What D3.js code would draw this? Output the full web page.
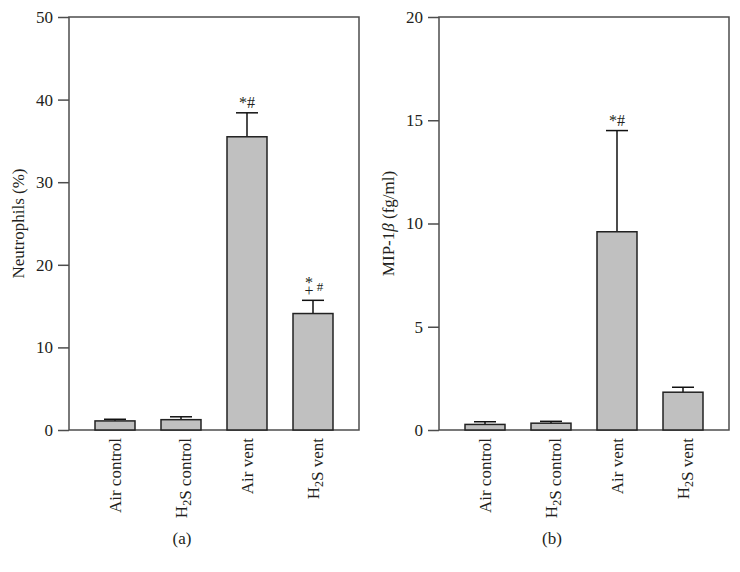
<!DOCTYPE html>
<html>
<head>
<meta charset="utf-8">
<script src="https://cdn.jsdelivr.net/npm/d3@7"></script>
<style>
  body { margin: 0; background: #fff; }
  svg text { font-family: "Liberation Serif", "DejaVu Serif", serif; fill: #231f20; }
</style>
</head>
<body>
<div id="chart"></div>
<script>
// Data
const categories = ["Air control", "H2S control", "Air vent", "H2S vent"];
const neutrophilMean = [1.1, 1.25, 35.5, 14.1];
const neutrophilErr = [0.2, 0.35, 2.9, 1.6];
const neutrophilTicks = [0, 10, 20, 30, 40, 50];
const neutrophilMarks = ["", "", "*#", "*+#"];
const mipMean = [0.27, 0.33, 9.6, 1.83];
const mipErr = [0.13, 0.09, 4.9, 0.24];
const mipTicks = [0, 5, 10, 15, 20];
const mipMarks = ["", "", "*#", ""];

const width = 740, height = 572;
const fontSize = "17px";
const svg = d3.select("#chart").append("svg")
    .attr("width", width)
    .attr("height", height);

// write "H2S" with a subscript 2
function labelWithSub(sel, txt) {
    const parts = txt.split(/(2)/);
    parts.forEach(p => {
        if (p === "2") {
            sel.append("tspan").attr("dy", 4).style("font-size", "12px").text("2");
            sel.append("tspan").attr("dy", -4).text("");
        } else if (p) {
            sel.append("tspan").text(p);
        }
    });
}

function drawPanel(means, errs, ticks, marks, yLabel, panelTag, left) {
    const top = 17, bottom = 430, right = left + 290;

    const x = d3.scaleBand()
        .domain(categories)
        .range([left, right])
        .padding(0.394);

    const y = d3.scaleLinear()
        .domain([0, ticks[ticks.length - 1]])
        .range([bottom, top]);

    const g = svg.append("g");

    // frame
    g.append("rect")
        .attr("x", left)
        .attr("y", top)
        .attr("width", right - left)
        .attr("height", bottom - top)
        .attr("fill", "none")
        .attr("stroke", "#4d4d4d")
        .attr("stroke-width", 1.5);

    // y axis
    const axis = g.append("g")
        .attr("transform", `translate(${left},0)`)
        .call(d3.axisLeft(y).tickValues(ticks).tickSize(11).tickPadding(5));
    axis.select(".domain").remove();
    axis.selectAll(".tick line").attr("stroke", "#4d4d4d").attr("stroke-width", 1.5);
    axis.selectAll(".tick text")
        .style("font-size", fontSize)
        .style("font-family", "'Liberation Serif', serif")
        .attr("fill", "#231f20");

    // error bars
    categories.forEach((c, i) => {
        const cx = x(c) + x.bandwidth() / 2;
        g.append("line")
            .attr("x1", cx).attr("x2", cx)
            .attr("y1", y(means[i])).attr("y2", y(means[i] + errs[i]))
            .attr("stroke", "#111").attr("stroke-width", 1.5);
        g.append("line")
            .attr("x1", cx - 11).attr("x2", cx + 11)
            .attr("y1", y(means[i] + errs[i])).attr("y2", y(means[i] + errs[i]))
            .attr("stroke", "#111").attr("stroke-width", 1.5);
    });

    // bars
    g.selectAll("rect.bar")
        .data(means)
        .join("rect")
        .attr("class", "bar")
        .attr("x", (d, i) => x(categories[i]))
        .attr("y", d => y(d))
        .attr("width", x.bandwidth())
        .attr("height", d => y(0) - y(d))
        .attr("fill", "#c0c0c0")
        .attr("stroke", "#222")
        .attr("stroke-width", 1.5);

    // significance marks
    marks.forEach((m, i) => {
        if (!m) return;
        const cx = x(categories[i]) + x.bandwidth() / 2;
        const ty = y(means[i] + errs[i]);
        if (m === "*#") {
            g.append("text")
                .attr("x", cx).attr("y", ty - 5)
                .attr("text-anchor", "middle")
                .style("font-size", "16px")
                .text("*#");
        } else {
            // stacked * over +, with # to the right
            const t = g.append("text")
                .attr("x", cx - 4).attr("y", ty - 12)
                .attr("text-anchor", "middle")
                .style("font-size", "16px");
            t.append("tspan").text("*");
            t.append("tspan").attr("x", cx - 4).attr("dy", 8).text("+");
            t.append("tspan").attr("x", cx + 7).attr("dy", -5)
                .style("font-size", "13px").text("#");
        }
    });

    // category labels
    categories.forEach(c => {
        const cx = x(c) + x.bandwidth() / 2 + 6;
        const t = g.append("text")
            .attr("transform", `translate(${cx},${bottom + 8}) rotate(-90)`)
            .attr("text-anchor", "end")
            .style("font-size", fontSize);
        labelWithSub(t, c);
    });

    // y label
    const yl = g.append("text")
        .attr("transform", `translate(${left - 45},${(top + bottom) / 2}) rotate(-90)`)
        .attr("text-anchor", "middle")
        .style("font-size", fontSize);
    if (yLabel.includes("β")) {
        yl.append("tspan").text("MIP-1");
        yl.append("tspan").style("font-style", "italic").text("β");
        yl.append("tspan").text(" (fg/ml)");
    } else {
        yl.text(yLabel);
    }

    // panel tag
    g.append("text")
        .attr("x", (left + right) / 2 - 32)
        .attr("y", 544)
        .attr("text-anchor", "middle")
        .style("font-size", fontSize)
        .text(panelTag);
}

drawPanel(neutrophilMean, neutrophilErr, neutrophilTicks, neutrophilMarks, "Neutrophils (%)", "(a)", 69);
drawPanel(mipMean, mipErr, mipTicks, mipMarks, "MIP-1β (fg/ml)", "(b)", 439);
</script>
</body>
</html>
